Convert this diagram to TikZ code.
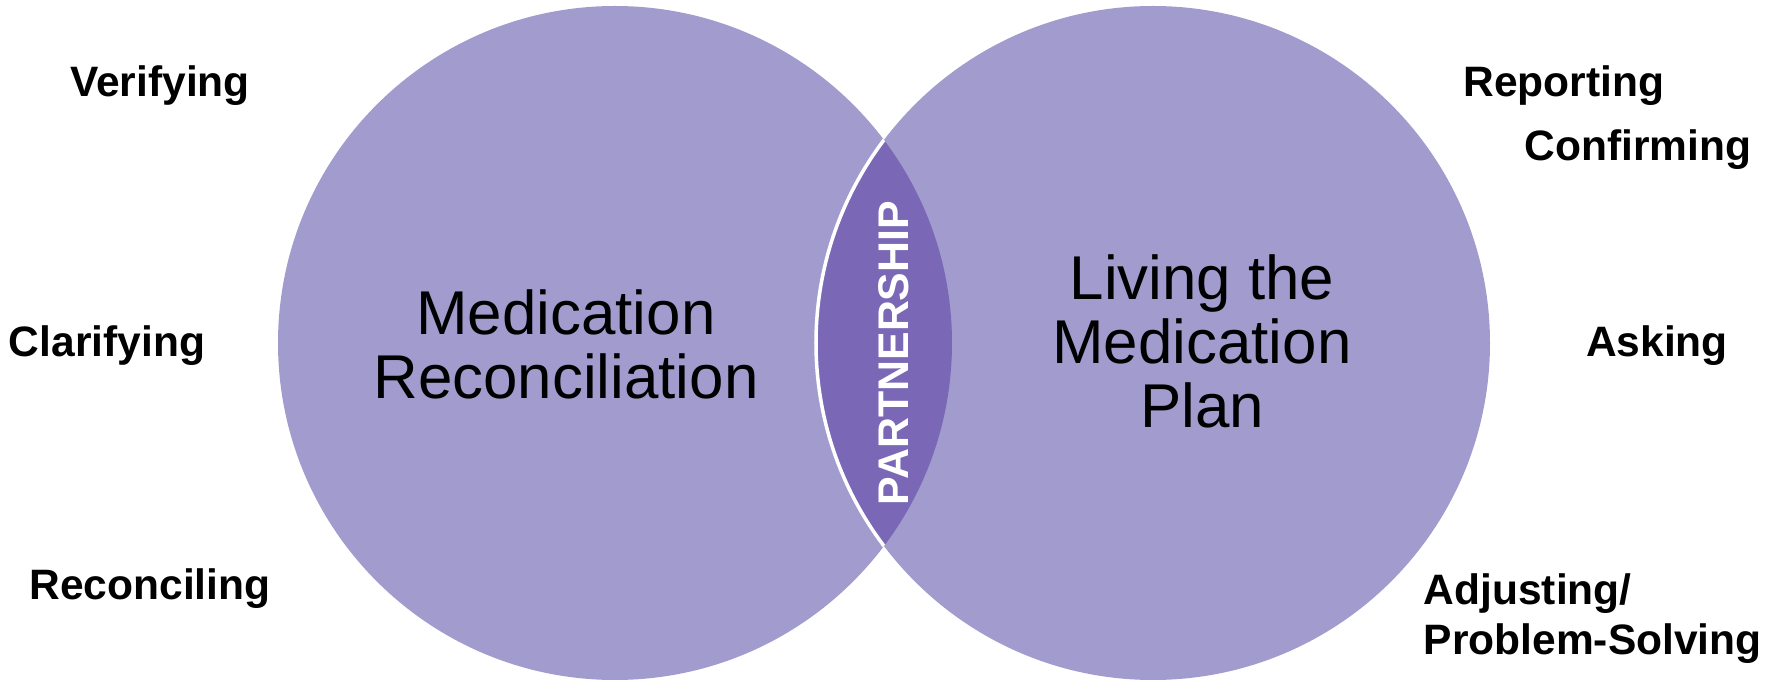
\documentclass[tikz,border=0pt]{standalone}
\usepackage{fontspec}
\setmainfont{Liberation Sans}
\definecolor{lightlav}{RGB}{162,155,206}
\definecolor{darklav}{RGB}{122,104,182}

\begin{document}
\begin{tikzpicture}[
  bigtext/.style={font=\fontsize{17.6}{18.2}\selectfont, align=center, inner sep=0pt},
  sidetext/.style={font=\bfseries\fontsize{12.1}{14.3}\selectfont, inner sep=0pt, anchor=base},
  ]
  \useasboundingbox (0,0) rectangle (17.77,6.81);

  \coordinate (lc) at (6.15,3.38);
  \coordinate (rc) at (11.53,3.38);

  % two circles
  \fill[lightlav] (lc) circle (3.37);
  \fill[lightlav] (rc) circle (3.37);

  % overlap
  \begin{scope}
    \clip (lc) circle (3.37);
    \fill[darklav] (rc) circle (3.37);
    \draw[white,line width=1pt] (rc) circle (3.37);
  \end{scope}

  \node[bigtext] (medrec) at (5.66,3.37) {Medication\\Reconciliation};
  \node[bigtext] (living) at (12.02,3.395) {Living the\\Medication\\Plan};
  \node[font=\bfseries\fontsize{12.2}{14}\selectfont, text=white, rotate=90, inner sep=0pt] (partner) at (8.935,3.28) {PARTNERSHIP};

  % left side
  \node[sidetext] (verify) at (1.60,5.84) {Verifying};
  \node[sidetext] (clarify) at (1.07,3.243) {Clarifying};
  \node[sidetext] (reconcile) at (1.50,0.81) {Reconciling};

  % right side
  \node[sidetext] (report) at (15.64,5.84) {Reporting};
  \node[sidetext] (confirm) at (16.38,5.20) {Confirming};
  \node[sidetext] (ask) at (16.57,3.243) {Asking};
  \node[sidetext, anchor=north west, align=left] (adjust) at (14.23,1.08) {Adjusting/\\Problem-Solving};
\end{tikzpicture}
\end{document}
